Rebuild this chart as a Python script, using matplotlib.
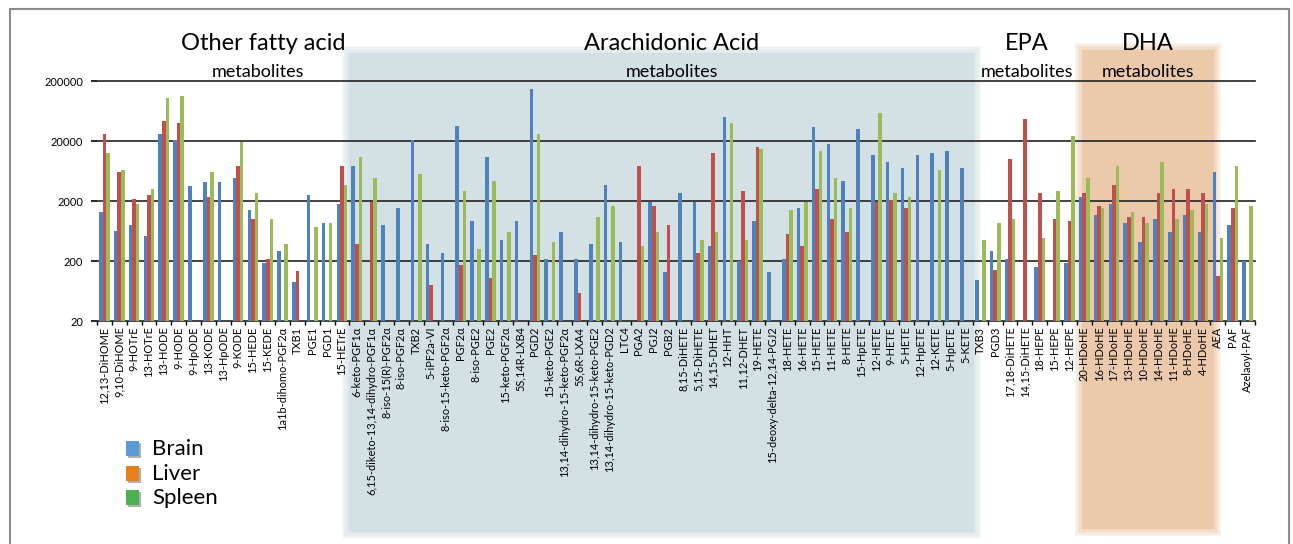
import numpy as np
import matplotlib
matplotlib.use("Agg")
import matplotlib.pyplot as plt
from matplotlib.patches import Rectangle
from matplotlib.transforms import blended_transform_factory

plt.rcParams['font.family'] = ['Lato', 'DejaVu Sans']

nan = np.nan

# metabolite names, in plotting order
names = ["12,13-DiHOME", "9,10-DiHOME", "9-HOTrE", "13-HOTrE", "13-HODE", "9-HODE",
         "9-HpODE", "13-KODE", "13-HpODE", "9-KODE", "15-HEDE", "15-KEDE",
         "1a1b-dihomo-PGF2\u03b1", "TXB1", "PGE1", "PGD1", "15-HETrE",
         "6-keto-PGF1\u03b1", "6,15-diketo-13,14-dihydro-PGF1\u03b1", "8-iso-15(R)-PGF2\u03b1",
         "8-iso-PGF2\u03b1", "TXB2", "5-iPF2a-VI", "8-iso-15-keto-PGF2\u03b1", "PGF2\u03b1",
         "8-iso-PGE2", "PGE2", "15-keto-PGF2\u03b1", "5S,14R-LXB4", "PGD2", "15-keto-PGE2",
         "13,14-dihydro-15-keto-PGF2\u03b1", "5S,6R-LXA4", "13,14-dihydro-15-keto-PGE2",
         "13,14-dihydro-15-keto-PGD2", "LTC4", "PGA2", "PGJ2", "PGB2", "8,15-DiHETE",
         "5,15-DiHETE", "14,15-DHET", "12-HHT", "11,12-DHET", "19-HETE",
         "15-deoxy-delta-12,14-PGJ2", "18-HETE", "16-HETE", "15-HETE", "11-HETE", "8-HETE",
         "15-HpETE", "12-HETE", "9-HETE", "5-HETE", "12-HpETE", "12-KETE", "5-HpETE", "5-KETE",
         "TXB3", "PGD3", "17,18-DiHETE", "14,15-DiHETE", "18-HEPE", "15-HEPE", "12-HEPE",
         "20-HDoHE", "16-HDoHE", "17-HDoHE", "13-HDoHE", "10-HDoHE", "14-HDoHE", "11-HDoHE",
         "8-HDoHE", "4-HDoHE", "AEA", "PAF", "Azelaoyl-PAF"]

brain = [1310, 624, 809, 527, 26200, 20800, 3490, 4070, 4070, 4760, 1410, 185,
         299, 88, 2490, 863, 1800,
         7780, nan, 809, 1520, 20800, 382, 276, 36200, 933, 10700, 446, 933, 145000, 216,
         616, 216, 382, 3720, 413, nan, 1950, 132, 2690, 1950, 349, 50100, 200, 933,
         132, 216, 1520, 33600, 17600, 4350, 31100, 11600, 9080, 7190, 11600, 12600, 13700, 7190,
         96, 299, 216, nan, 156, nan, 185,
         2310, 1190, 1800, 851, 413, 1010, 616, 1190, 616,
         6080, 809, 200]

liver = [26200, 6080, 2130, 2490, 43500, 39700, nan, 2310, nan, 7780, 1020, 216,
         nan, 134, nan, nan, 7780,
         387, 1950, nan, nan, nan, 81, nan, 169, nan, 103, nan, nan, 252, nan,
         nan, 58, nan, nan, nan, 7670, 1670, 798, nan, 276, 12600, nan, 2910, 16000,
         nan, 570, 349, 3190, 1020, 616, nan, 1950, 2100, 1520, nan, nan, nan, nan,
         nan, 143, 9940, 46400, 2690, 1020, 933,
         2690, 1670, 3720, 1100, 1100, 2690, 3190, 3190, 2690,
         112, 1520, nan]

spleen = [12600, 6650, 1800, 3190, 105000, 113000, nan, 6080, nan, 19000, 2690, 1010,
          387, nan, 738, 863, 3720,
          10700, 4760, nan, nan, 5560, nan, nan, 2910, 323, 4350, 616, nan, 25900, 413,
          nan, nan, 1100, 1670, nan, 349, 616, nan, nan, 446, 616, 39700, 446, 14900,
          nan, 1410, 1950, 13700, 4760, 1520, nan, 59300, 2690, 2310, nan, 6580, nan, nan,
          446, 851, 1010, nan, 488, 2910, 24300,
          4760, 1520, 7780, 1290, 851, 9080, 1010, 1410, 1800,
          488, 7780, 1670]

# group headings: (title, x of title in px, x of subtitle in px)
groups = [("Other fatty acid", 263, 258), ("Arachidonic Acid", 672, 672),
          ("EPA", 1027, 1027), ("DHA", 1148, 1148)]

W, H = 1293, 544
fig = plt.figure(figsize=(W / 100, H / 100), dpi=100)
ax = fig.add_axes([97 / W, 1 - 321 / H, (1255 - 97) / W, (321 - 81) / H])
ax.patch.set_alpha(0)

x = np.arange(len(names))
bw = 0.24
ax.bar(x - bw, brain, bw, color='#4f81bd', zorder=3)
ax.bar(x, liver, bw, color='#c0504d', zorder=3)
ax.bar(x + bw, spleen, bw, color='#9bbb59', zorder=3)

ax.set_yscale('log')
ax.set_ylim(20, 200000)
ax.set_xlim(-0.5, len(names) - 0.5)

yt = [20, 200, 2000, 20000, 200000]
ax.set_yticks(yt)
ax.set_yticklabels([str(v) for v in yt], fontsize=8)
ax.minorticks_off()
for v in yt:
    ax.axhline(v, color='#222222', lw=1.2, zorder=2, clip_on=False)
ax.tick_params(axis='y', length=4, width=1.2, pad=6)

ax.set_xticks(x)
ax.set_xticklabels(names, rotation=90, fontsize=7.9)
ax.tick_params(axis='x', length=0, pad=4)
ax.set_xticks(np.arange(len(names) + 1) - 0.5, minor=True)
ax.tick_params(axis='x', which='minor', length=3, width=1)
for s in ['top', 'right', 'left', 'bottom']:
    ax.spines[s].set_visible(False)

# shaded bands behind the arachidonic and DHA groups, with soft edges
tr = blended_transform_factory(ax.transData, fig.transFigure)
px = 1.0 / 14.85


def band(x0, x1, ytop, ybot, color):
    ax.add_patch(Rectangle((x0, 1 - ybot / H), x1 - x0, (ybot - ytop) / H,
                           transform=tr, color=color, lw=0, zorder=0, clip_on=False))
    for i in range(1, 6):
        d = 1.4 * i
        ax.add_patch(Rectangle((x0 - d * px, 1 - (ybot + d) / H), x1 - x0 + 2 * d * px,
                               (ybot - ytop + 2 * d) / H, transform=tr, color=color,
                               alpha=0.2, lw=0, zorder=0, clip_on=False))


band(16.45, 58.6, 53, 532, '#d3e0e4')
band(65.85, 74.75, 50, 529, '#ecc9ab')

# group titles
for t, xt, xs in groups:
    fig.text(xt / W, 1 - 43 / H, t, ha='center', va='center', fontsize=17)
    fig.text(xs / W, 1 - 72 / H, "metabolites", ha='center', va='center', fontsize=13)

# legend
leg = [("Brain", '#5b9bd5'), ("Liver", '#e6801a'), ("Spleen", '#4cb050')]
for i, (lab, c) in enumerate(leg):
    yc = 449 + 24.5 * i
    fig.patches.append(Rectangle(((126 + 2) / W, 1 - (yc + 9) / H), 13 / W, 15 / H,
                                 transform=fig.transFigure, color='#b0b0b0', lw=0))
    fig.patches.append(Rectangle((126 / W, 1 - (yc + 7) / H), 13 / W, 15 / H,
                                 transform=fig.transFigure, color=c, lw=0))
    fig.text(152 / W, 1 - yc / H, lab, ha='left', va='center', fontsize=16)

# outer frame
fig.patches.append(Rectangle((10 / W, -0.02), (1289 - 10) / W, 1.02 - 9 / H,
                             transform=fig.transFigure, fill=False, ec='#8c8c8c', lw=1.5))

fig.savefig("out.png", dpi=100)
